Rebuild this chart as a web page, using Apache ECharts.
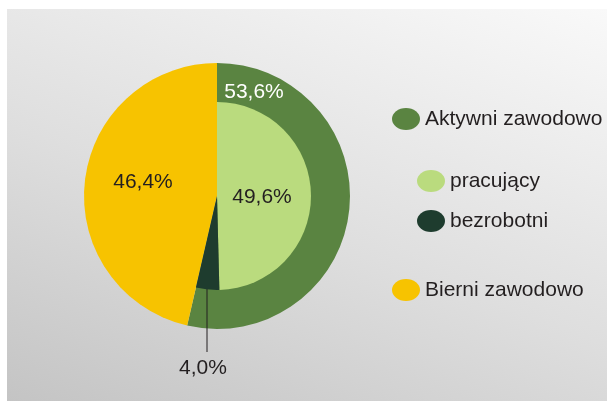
<!DOCTYPE html>
<html>
<head>
<meta charset="utf-8">
<script src="https://cdn.jsdelivr.net/npm/echarts@6/dist/echarts.min.js"></script>
<style>
  body { margin: 0; background: #fff; }
  #wrap { position: relative; width: 607px; height: 401px; }
  #bg {
    position: absolute; left: 7px; top: 9px; width: 600px; height: 392px;
    background: linear-gradient(200deg, #f9f9f9 0%, #dedede 55%, #c4c4c4 100%);
  }
  #main { position: absolute; left: 0; top: 0; width: 607px; height: 401px; }
</style>
</head>
<body>
<div id="wrap">
  <div id="bg"></div>
  <div id="main"></div>
</div>
<script>
// dane
var outerNames = ['Aktywni zawodowo', 'Bierni zawodowo'];
var outerValues = [53.6, 46.4];
var innerNames = ['pracujący', 'bezrobotni'];
var innerValues = [49.6, 4.0];

var outerColors = ['#5a8441', '#f7c300'];
var innerColors = ['#badb7e', '#1e3c2e'];
var font = 'Liberation Sans, Arial, sans-serif';
var textColor = '#231f20';
var ellipse = 'path://M0,10a10,10 0 1,0 20,0a10,10 0 1,0 -20,0z';

function pct(v) {
  return v.toFixed(1).replace('.', ',') + '%';
}

var chart = echarts.init(document.getElementById('main'), null, { renderer: 'canvas' });

var outerData = outerNames.map(function (n, i) {
  return {
    name: n,
    value: outerValues[i],
    itemStyle: { color: outerColors[i] },
    label: { color: i == 0 ? '#ffffff' : textColor }
  };
});

var innerData = innerNames.map(function (n, i) {
  return {
    name: n,
    value: innerValues[i],
    itemStyle: { color: innerColors[i] },
    label: i == 0 ? { position: 'inside' } : { position: 'outside' },
    labelLine: { show: i == 1 }
  };
});
// reszta kola pod wewnetrznym pierscieniem (przezroczysta)
innerData.push({
  name: '',
  value: outerValues[1],
  itemStyle: { color: 'rgba(0,0,0,0)' },
  label: { show: false },
  labelLine: { show: false }
});

function legendAt(name, left, top, w) {
  return {
    data: [name],
    left: left,
    top: top,
    padding: 0,
    icon: ellipse,
    symbolKeepAspect: false,
    itemWidth: w,
    itemHeight: 22,
    selectedMode: false,
    textStyle: { fontSize: 21, fontFamily: font, color: textColor }
  };
}

var option = {
  animation: false,
  legend: [
    legendAt(outerNames[0], 392, 108, 28),
    legendAt(innerNames[0], 417, 170, 28),
    legendAt(innerNames[1], 417, 210, 28),
    legendAt(outerNames[1], 392, 279, 28)
  ],
  series: [{
    type: 'pie',
    z: 2,
    center: [217, 196],
    radius: [0, 133],
    startAngle: 90,
    clockwise: true,
    silent: true,
    itemStyle: { borderWidth: 0 },
    label: {
      show: true,
      position: 'inside',
      fontSize: 21,
      fontFamily: font,
      formatter: function (p) { return pct(p.value); }
    },
    labelLine: { show: false },
    labelLayout: function (p) {
      var pos = [[254, 92], [143, 182]][p.dataIndex];
      return { x: pos[0], y: pos[1], align: 'center', verticalAlign: 'middle' };
    },
    data: outerData
  }, {
    type: 'pie',
    z: 3,
    center: [217, 196],
    radius: [0, 94],
    startAngle: 90,
    clockwise: true,
    silent: true,
    itemStyle: { borderWidth: 0 },
    label: {
      show: true,
      fontSize: 21,
      fontFamily: font,
      color: textColor,
      formatter: function (p) { return pct(p.value); }
    },
    labelLine: { lineStyle: { color: textColor, width: 1 } },
    labelLayout: function (p) {
      if (p.dataIndex == 0) {
        return { x: 262, y: 197, align: 'center', verticalAlign: 'middle' };
      }
      if (p.dataIndex != 1) return {};
      return {
        x: 203, y: 368, align: 'center', verticalAlign: 'middle',
        labelLinePoints: [[207, 289], [207, 352], [207, 352]]
      };
    },
    data: innerData
  }]
};

chart.setOption(option);
</script>
</body>
</html>
